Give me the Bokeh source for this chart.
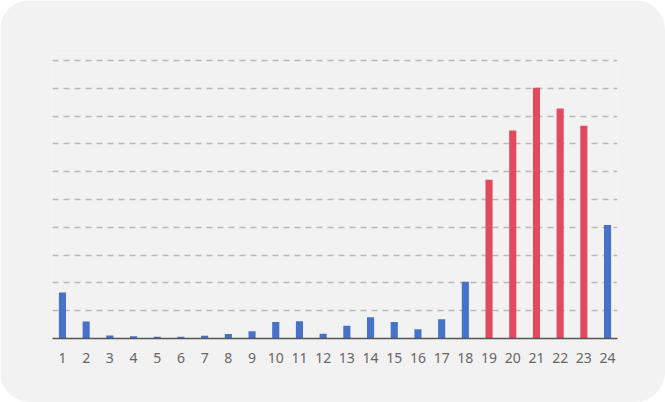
from bokeh.plotting import figure
from bokeh.models import FixedTicker, ColumnDataSource
from bokeh.embed import file_html
from bokeh.resources import INLINE

hours = list(range(1, 25))
values = [1.65, 0.61, 0.11, 0.08, 0.06, 0.06, 0.10, 0.16, 0.26, 0.59, 0.62, 0.17,
          0.46, 0.76, 0.59, 0.33, 0.69, 2.04, 5.71, 7.48, 9.02, 8.27, 7.65, 4.08]
highlight = [19, 20, 21, 22, 23]
tick_labels = [str(h) for h in hours]

BLUE = "#4672c8"
RED = "#e24a5f"
colors = [RED if h in highlight else BLUE for h in hours]

src = ColumnDataSource(dict(x=hours, top=values, color=colors))

p = figure(width=665, height=402, output_backend="svg", toolbar_location=None,
           x_range=(0.58, 24.42), y_range=(0, 10.25),
           min_border_left=52, min_border_right=48, min_border_top=53, min_border_bottom=64)
p.background_fill_color = "#f2f2f2"
p.border_fill_color = "#f2f2f2"
p.outline_line_color = None
p.styles = {"border-radius": "30px", "overflow": "hidden"}

p.vbar(x="x", top="top", width=0.3, bottom=0, source=src,
       fill_color="color", line_color=None)

p.yaxis.visible = False
p.xgrid.grid_line_color = None
p.ygrid.ticker = FixedTicker(ticks=list(range(1, 11)))
p.ygrid.grid_line_color = "#b8b8b8"
p.ygrid.grid_line_width = 1.5
p.ygrid.grid_line_dash = "6 5"

xa = p.xaxis[0]
xa.ticker = FixedTicker(ticks=hours)
xa.major_label_overrides = {h: l for h, l in zip(hours, tick_labels)}
xa.axis_line_color = "#555555"
xa.axis_line_width = 1.5
xa.major_tick_line_color = None
xa.minor_tick_line_color = None
xa.major_label_text_color = "#666666"
xa.major_label_text_font = "Noto Sans"
xa.major_label_text_font_size = "14px"
xa.major_label_standoff = 8

open("out.html", "w").write(file_html(p, INLINE))
